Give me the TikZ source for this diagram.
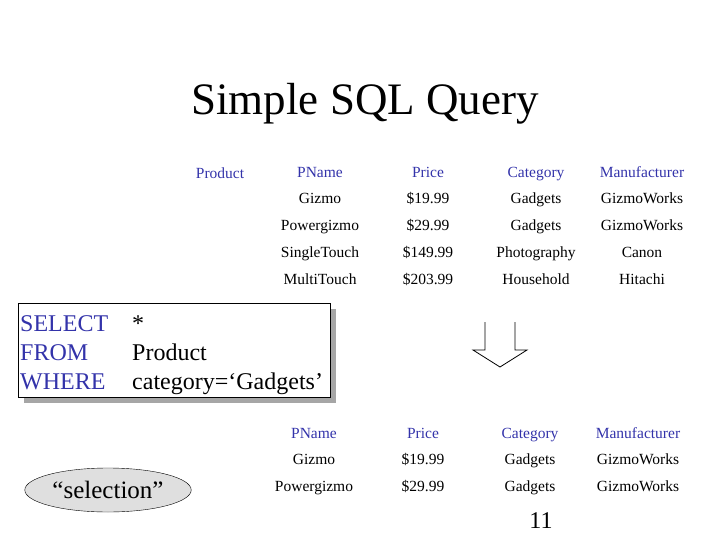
\documentclass[tikz,border=0pt]{standalone}
\usepackage{fontspec}
\setmainfont{Liberation Serif}
\usetikzlibrary{shapes.geometric}
\definecolor{hdblue}{RGB}{51,51,170}
\tikzset{
  cell/.style={font=\fontsize{15.5}{18}\selectfont, inner sep=0pt, anchor=base},
  head/.style={cell, text=hdblue},
  kw/.style={font=\fontsize{24}{28}\selectfont, text=hdblue, anchor=base west, inner sep=0pt},
  arg/.style={font=\fontsize{24}{28}\selectfont, anchor=base west, inner sep=0pt}
}
\begin{document}
\begin{tikzpicture}[x=1pt,y=-1pt]
  \useasboundingbox (0,0) rectangle (728,546);
  \node[font=\fontsize{45}{50}\selectfont, anchor=base] (title) at (365,114) {Simple SQL Query};
  % input table
  \node[cell, text=hdblue] (tname) at (220,178) {Product};
  \foreach \x/\h [count=\c] in {320/PName,428/Price,536/Category,642/Manufacturer}
    \node[head] (h\c) at (\x,177) {\h};
  \foreach \y/\a/\b/\cc/\d [count=\r] in {
      203/Gizmo/\$19.99/Gadgets/GizmoWorks,
      230/Powergizmo/\$29.99/Gadgets/GizmoWorks,
      257/SingleTouch/\$149.99/Photography/Canon,
      284/MultiTouch/\$203.99/Household/Hitachi}{
    \node[cell] (a\r) at (320,\y) {\a};
    \node[cell] (b\r) at (428,\y) {\b};
    \node[cell] (c\r) at (536,\y) {\cc};
    \node[cell] (d\r) at (642,\y) {\d};
  }
  % query box
  \fill[gray!70] (24,309) rectangle (336,403);
  \draw[fill=white] (18,303) rectangle (330,397);
  \node[kw] (sel) at (20,331) {SELECT};
  \node[arg] (star) at (132,331) {*};
  \node[kw] (frm) at (20,360) {FROM};
  \node[arg] (prod) at (132,360) {Product};
  \node[kw] (whr) at (20,389) {WHERE};
  \node[arg] (cond) at (132,389) {category=`Gadgets'};
  % arrow
  \draw[line width=0.8pt] (485,322) -- (485,350) -- (473,350) -- (500,367)
    -- (527,350) -- (515,350) -- (515,322);
  % result table
  \foreach \x/\h [count=\c] in {314/PName,423/Price,530/Category,638/Manufacturer}
    \node[head] (rh\c) at (\x,438) {\h};
  \foreach \y/\a/\b/\cc/\d [count=\r] in {
      464/Gizmo/\$19.99/Gadgets/GizmoWorks,
      491/Powergizmo/\$29.99/Gadgets/GizmoWorks}{
    \node[cell] (ra\r) at (314,\y) {\a};
    \node[cell] (rb\r) at (423,\y) {\b};
    \node[cell] (rc\r) at (530,\y) {\cc};
    \node[cell] (rd\r) at (638,\y) {\d};
  }
  \node[draw, ellipse, fill=gray!25, minimum width=164, minimum height=44,
    font=\fontsize{25}{28}\selectfont] (selection) at (108,490) {``selection''};
  \node[font=\fontsize{24}{28}\selectfont, anchor=base] (page) at (541,528) {11};
\end{tikzpicture}
\end{document}
